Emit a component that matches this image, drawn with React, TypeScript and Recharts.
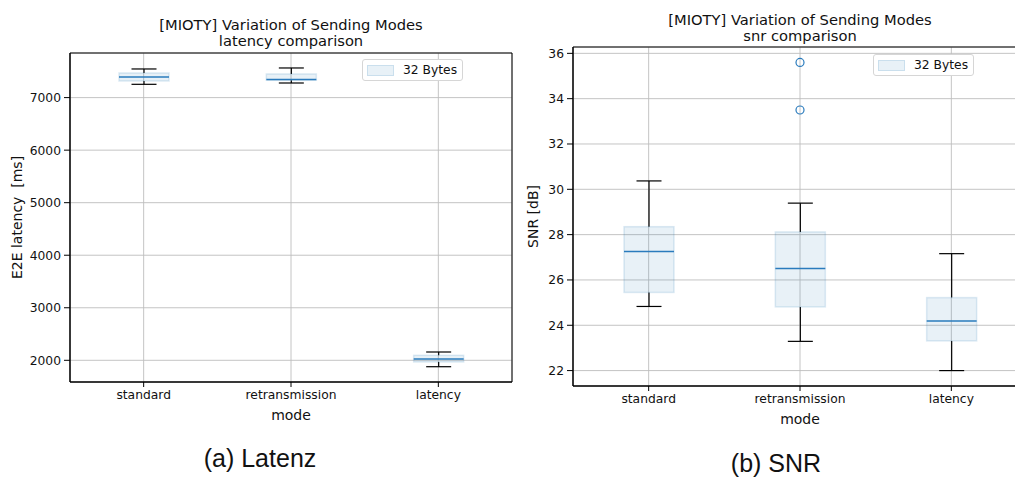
import { Bar, CartesianGrid, ComposedChart, Legend, ReferenceArea, Scatter, XAxis, YAxis } from "recharts"

const modes = ["standard", "retransmission", "latency"]
const seriesName = "32 Bytes"

// latency [ms], box stats per mode
const latencyMin = [7253, 7278, 1878]
const latencyQ1 = [7316, 7330, 1968]
const latencyMedian = [7392, 7343, 2025]
const latencyQ3 = [7469, 7450, 2095]
const latencyMax = [7545, 7564, 2158]
const latencyTicks = [2000, 3000, 4000, 5000, 6000, 7000]
const latencyDomain: [number, number] = [1587, 7849]

// snr [dB]
const snrMin = [24.83, 23.29, 22.0]
const snrQ1 = [25.45, 24.81, 23.31]
const snrMedian = [27.26, 26.51, 24.19]
const snrQ3 = [28.35, 28.12, 25.22]
const snrMax = [30.37, 29.39, 27.16]
const snrOutlierModes = ["retransmission", "retransmission"]
const snrOutlierValues = [35.6, 33.5]
const snrTicks = [22, 24, 26, 28, 30, 32, 34, 36]
const snrDomain: [number, number] = [21.32, 36.28]

const FONT = "DejaVu Sans, sans-serif"
const BLUE = "#2a7bbd"

const buildRows = (mins: number[], q1s: number[], meds: number[], q3s: number[], maxs: number[]) =>
  modes.map((mode, i) => ({ mode, min: mins[i], q1: q1s[i], median: meds[i], q3: q3s[i], max: maxs[i] }))

const latencyRows = buildRows(latencyMin, latencyQ1, latencyMedian, latencyQ3, latencyMax)
const snrRows = buildRows(snrMin, snrQ1, snrMedian, snrQ3, snrMax)
const snrOutliers = snrOutlierModes.map((mode, i) => ({ mode, value: snrOutlierValues[i] }))

// bar covers [min, max]; the rest is placed inside that span
function BoxShape(props: any) {
  const { x, y, width, height, payload } = props
  const top = Math.min(y, y + height)
  const bottom = Math.max(y, y + height)
  const span = payload.max - payload.min
  const toY = (v: number) => bottom - ((v - payload.min) / span) * (bottom - top)
  const cx = x + width / 2
  const cap = width / 4
  const yQ1 = toY(payload.q1)
  const yQ3 = toY(payload.q3)
  const yMed = toY(payload.median)
  return (
    <g>
      <line x1={cx} x2={cx} y1={top} y2={yQ3} stroke="#000" strokeWidth={1.2} />
      <line x1={cx} x2={cx} y1={yQ1} y2={bottom} stroke="#000" strokeWidth={1.2} />
      <line x1={cx - cap} x2={cx + cap} y1={top} y2={top} stroke="#000" strokeWidth={1.2} />
      <line x1={cx - cap} x2={cx + cap} y1={bottom} y2={bottom} stroke="#000" strokeWidth={1.2} />
      <rect x={x} y={yQ3} width={width} height={yQ1 - yQ3}
        fill="#1f77b4" fillOpacity={0.1} stroke="#1f77b4" strokeOpacity={0.15} strokeWidth={1.5} />
      <line x1={x} x2={x + width} y1={yMed} y2={yMed} stroke={BLUE} strokeWidth={1.5} />
    </g>
  )
}

function OutlierShape(props: any) {
  return <circle cx={props.cx} cy={props.cy} r={4} fill="none" stroke={BLUE} strokeWidth={1.2} />
}

function LegendBox() {
  return (
    <div style={{
      display: "flex", alignItems: "center", border: "1px solid #d6d6d6", borderRadius: 3,
      background: "#fff", padding: "3px 5px 3px 4px", fontFamily: FONT, fontSize: 12.3, color: "#111",
    }}>
      <span style={{
        width: 25, height: 9, background: "rgba(31,119,180,0.1)",
        border: "1px solid rgba(31,119,180,0.15)", marginRight: 9, display: "inline-block",
      }} />
      {seriesName}
    </div>
  )
}

function YLabel(props: any) {
  const { viewBox, text, dx } = props
  const x = viewBox.x + dx
  const y = viewBox.y + viewBox.height / 2
  return (
    <text x={x} y={y} transform={`rotate(-90 ${x} ${y})`} textAnchor="middle" dominantBaseline="central"
      fontFamily={FONT} fontSize={14} fill="#111">{text}</text>
  )
}

function XLabel(props: any) {
  const { viewBox } = props
  return (
    <text x={viewBox.x + viewBox.width / 2} y={viewBox.y + 33} textAnchor="middle" dominantBaseline="central"
      fontFamily={FONT} fontSize={14} fill="#111">mode</text>
  )
}

interface BoxChartProps {
  rows: any[]
  domain: [number, number]
  ticks: number[]
  width: number
  margin: { top: number; right: number; bottom: number; left: number }
  yWidth: number
  yLabel: string
  yLabelDx: number
  legendPos: { left: number; top: number }
  outliers?: { mode: string; value: number }[]
}

function BoxChart({ rows, domain, ticks, width, margin, yWidth, yLabel, yLabelDx, legendPos, outliers }: BoxChartProps) {
  const tickStyle = { fontFamily: FONT, fontSize: 12.3, fill: "#111" }
  return (
    <ComposedChart width={width} height={478} data={rows} margin={margin}>
      <CartesianGrid stroke="#bdbdbd" strokeWidth={0.9} />
      <XAxis dataKey="mode" type="category" allowDuplicatedCategory={false} height={40}
        tick={tickStyle} tickSize={5} tickMargin={3} stroke="#000" tickLine={{ stroke: "#000" }}
        axisLine={{ stroke: "#000" }} label={<XLabel />} />
      <YAxis type="number" domain={domain} ticks={ticks} interval={0} allowDataOverflow width={yWidth}
        tick={tickStyle} tickSize={6} tickMargin={3} tickLine={{ stroke: "#000" }}
        axisLine={{ stroke: "#000" }} label={<YLabel text={yLabel} dx={yLabelDx} />} />
      <ReferenceArea y1={domain[0]} y2={domain[1]} fill="none" stroke="#000" strokeWidth={1} ifOverflow="visible" />
      <Bar dataKey={(d: any) => [d.min, d.max]} name={seriesName} barSize={50} shape={BoxShape}
        isAnimationActive={false} />
      {outliers && (
        <Scatter data={outliers} dataKey="value" shape={OutlierShape} isAnimationActive={false} legendType="none" />
      )}
      <Legend layout="vertical" align="center" verticalAlign="middle" content={<LegendBox />}
        wrapperStyle={{ left: legendPos.left, top: legendPos.top, width: "auto" }} />
    </ComposedChart>
  )
}

const titleStyle: React.CSSProperties = {
  position: "absolute", fontFamily: FONT, fontSize: 14.7, color: "#111", textAlign: "center", width: 400,
  lineHeight: "16px",
}
const captionStyle: React.CSSProperties = {
  position: "absolute", fontFamily: "Liberation Sans, Arial, sans-serif", fontSize: 25, color: "#111",
  textAlign: "center", width: 200, lineHeight: "30px",
}

export default function App() {
  return (
    <div style={{ position: "absolute", left: 0, top: 0, width: 1015, height: 478, overflow: "hidden", background: "#fff" }}>
      <div style={{ position: "absolute", left: 0, top: 0 }}>
        <BoxChart rows={latencyRows} domain={latencyDomain} ticks={latencyTicks} width={520}
          margin={{ top: 53, right: 8, bottom: 56, left: 0 }} yWidth={70}
          yLabel={"E2E latency\u00a0 [ms]"} yLabelDx={17} legendPos={{ left: 362, top: 59 }} />
      </div>
      <div style={{ position: "absolute", left: 505, top: 0 }}>
        <BoxChart rows={snrRows} domain={snrDomain} ticks={snrTicks} width={530}
          margin={{ top: 47, right: 8, bottom: 52, left: 0 }} yWidth={68}
          yLabel="SNR [dB]" yLabelDx={28} legendPos={{ left: 368, top: 54 }} outliers={snrOutliers} />
      </div>
      <div style={{ ...titleStyle, left: 91, top: 17 }}>
        [MIOTY] Variation of Sending Modes<br />latency comparison
      </div>
      <div style={{ ...titleStyle, left: 600, top: 12 }}>
        [MIOTY] Variation of Sending Modes<br />snr comparison
      </div>
      <div style={{ ...captionStyle, left: 160, top: 443 }}>(a) Latenz</div>
      <div style={{ ...captionStyle, left: 676, top: 448 }}>(b) SNR</div>
    </div>
  )
}
